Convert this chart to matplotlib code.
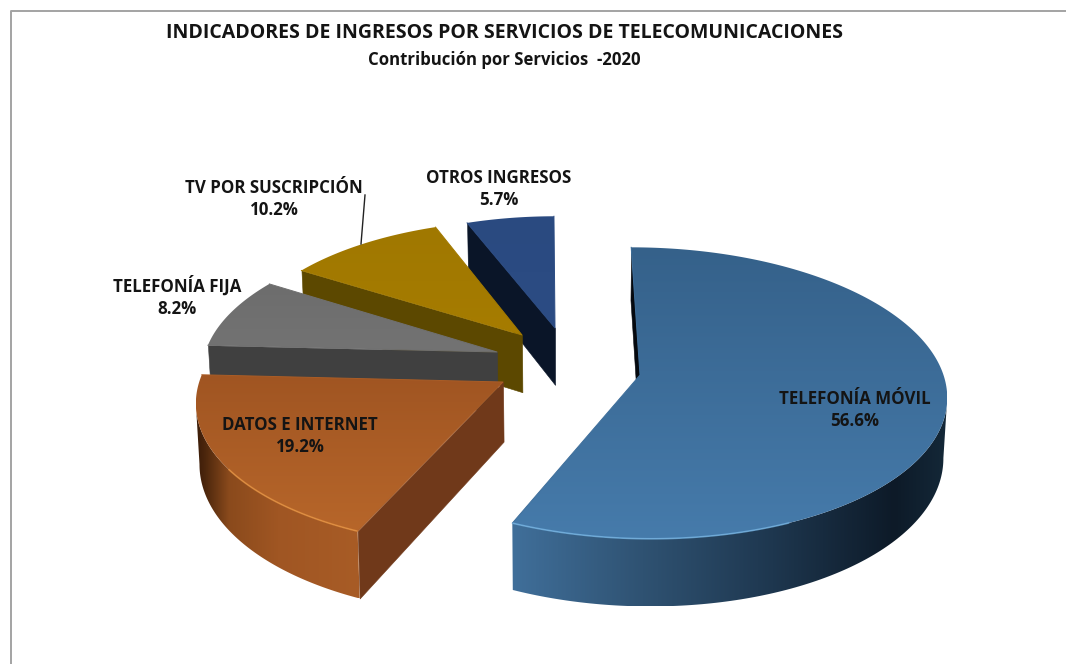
"""Exploded 3D pie: contribución por servicios de telecomunicaciones, 2020."""

import numpy as np
import matplotlib
matplotlib.use("Agg")
import matplotlib.pyplot as plt
from matplotlib.collections import PolyCollection
from matplotlib.colors import LinearSegmentedColormap
from matplotlib.patches import Polygon

plt.rcParams["font.family"] = ["Open Sans", "DejaVu Sans"]

# ---- Data --------------------------------------------------------------------
CATEGORIES = ["TELEFONÍA MÓVIL", "DATOS E INTERNET", "TELEFONÍA FIJA",
              "TV POR SUSCRIPCIÓN", "OTROS INGRESOS"]
SHARES = [56.6, 19.2, 8.2, 10.2, 5.7]

TITLE = "INDICADORES DE INGRESOS POR SERVICIOS DE TELECOMUNICACIONES"
SUBTITLE = "Contribución por Servicios  -2020"

# ---- Look of each slice -------------------------------------------------------
APEX_PX = [(640, 375), (503, 382), (497, 352), (522, 335), (555, 328)]
RADIUS = [1.01, 1.005, 0.99, 0.965, 0.95]
TOP_COLORS = [("#35618a", "#467bab"), ("#a05522", "#b7662a"), ("#6d6d6d", "#737373"),
              ("#a07800", "#a67c00"), ("#2a4a80", "#2c4c84")]
EDGE_COLORS = ["#3f6f9b", "#ab5d26", "#707070", "#a37a00", "#2b4b82"]
FACE_COLORS = ["#05090f", "#70391a", "#404040", "#5c4800", "#0a1528"]
# wall colours from the left end of the wall to its right end
SIDE_STOPS = [
    [(0.0, "#406f9a"), (0.3, "#2f5272"), (0.6, "#1e374f"), (0.88, "#0d1a28"), (1.0, "#142838")],
    [(0.0, "#3a1c08"), (0.05, "#4a250c"), (0.2, "#8a4a1c"), (0.5, "#a05623"), (1.0, "#a85c26")],
    [(0.0, "#454545"), (1.0, "#3c3c3c")],
    [(0.0, "#5c4800"), (1.0, "#5c4800")],
    [(0.0, "#0a1528"), (1.0, "#0a1528")],
]
RIM_COLORS = ["#74b4e4", "#e6923f", None, None, None]
RIM_XRANGE = [(0, 790), (228, 1066), None, None, None]
LABEL_PX = [(855, 410), (300, 436), (177, 297), (274, 199), (499, 189)]

# projection of the unit disc to the picture
X0, Y0 = 560.0, 350.0
AX, BY = 294.0, 136.0
PERSP = 0.12
DEPTH = 58.0
N_ARC = 240


def project(u, v):
    s = 1.0 / (1.0 + PERSP * v)
    return X0 + AX * u * s, Y0 - BY * v * s, s


def unproject(px, py):
    f = Y0 - py
    v = f / (BY - PERSP * f)
    s = 1.0 / (1.0 + PERSP * v)
    return (px - X0) / (AX * s), v


def lower(x, y, s):
    """Same point on the bottom face of the slab."""
    return X0 + (x - X0) * 0.99, y + DEPTH * s


def gradient_fill(ax, poly, stops, horizontal=False):
    cmap = LinearSegmentedColormap.from_list("fill", stops)
    ymin, ymax = poly[:, 1].min(), poly[:, 1].max()
    xmin, xmax = poly[:, 0].min(), poly[:, 0].max()
    ramp = np.linspace(0, 1, 512)
    ramp = ramp.reshape(1, -1) if horizontal else ramp.reshape(-1, 1)
    im = ax.imshow(ramp, cmap=cmap, aspect="auto", vmin=0, vmax=1,
                   extent=(xmin, xmax, ymax, ymin), origin="upper", zorder=2)
    patch = Polygon(poly, closed=True, transform=ax.transData, fc="none", ec="none")
    ax.add_patch(patch)
    im.set_clip_path(patch)
    return im


def draw_slice(ax, idx, theta0, theta1):
    ua, va = unproject(*APEX_PX[idx])
    th = np.linspace(theta0, theta1, N_ARC)
    u = ua + RADIUS[idx] * np.sin(th)
    v = va + RADIUS[idx] * np.cos(th)
    xa, ya, sa = project(ua, va)
    x, y, s = project(u, v)

    # radial faces (only those turned towards the viewer)
    quads = []
    if x[0] < xa:
        quads.append([(xa, ya), (x[0], y[0]), lower(x[0], y[0], s[0]), lower(xa, ya, sa)])
    if xa < x[-1]:
        quads.append([(x[-1], y[-1]), (xa, ya), lower(xa, ya, sa), lower(x[-1], y[-1], s[-1])])
    if quads:
        ax.add_collection(PolyCollection(quads, facecolors=FACE_COLORS[idx],
                                         edgecolors=FACE_COLORS[idx], linewidths=0.4, zorder=2))

    # outer wall, shaded along the picture's x
    vis = np.where(x[1:] < x[:-1])[0]
    if len(vis):
        vis = np.r_[vis, vis[-1] + 1]
        bx, by = lower(x[vis], y[vis], s[vis])
        wall = np.column_stack([np.r_[x[vis], bx[::-1]], np.r_[y[vis], by[::-1]]])
        gradient_fill(ax, wall, SIDE_STOPS[idx], horizontal=True)

    poly = np.column_stack([np.r_[xa, x], np.r_[ya, y]])
    gradient_fill(ax, poly, list(TOP_COLORS[idx]))
    # cover the jagged cut of the image along the two straight edges
    ax.plot([x[0], xa, x[-1]], [y[0], ya, y[-1]], color=EDGE_COLORS[idx], lw=0.7, zorder=2)

    if RIM_COLORS[idx] and len(vis):
        lo, hi = RIM_XRANGE[idx]
        keep = (x[vis] > lo) & (x[vis] < hi)
        ax.plot(x[vis][keep], y[vis][keep], color=RIM_COLORS[idx], lw=1.2, alpha=0.75,
                zorder=2, solid_capstyle="butt")


fig = plt.figure(figsize=(10.66, 6.64), dpi=100, facecolor="white")
ax = fig.add_axes([0, 0, 1, 1])
ax.axis("off")

edges = np.r_[0, np.cumsum(SHARES)] / 100.0 * 2 * np.pi
# painter's order: far slices first
for idx in [4, 3, 2, 1, 0]:
    draw_slice(ax, idx, edges[idx], edges[idx + 1])

# frame of the original worksheet picture
ax.plot([1066, 10.5, 10.5], [11, 11, 664], color="#a3a3a3", lw=1.4, zorder=1)

# leader line of the TV label
ax.plot([365, 361], [195, 244], color="#222222", lw=1.0, zorder=3)

for name, share, (lx, ly) in zip(CATEGORIES, SHARES, LABEL_PX):
    ax.text(lx, ly, f"{name}\n{share:.1f}%", ha="center", va="center", ma="center",
            fontsize=12.2, fontweight="bold", color="#141414", linespacing=1.3, zorder=4)

ax.text(505, 33, TITLE, ha="center", va="center", fontsize=14.0, fontweight="bold", color="#141414")
ax.text(504, 60, SUBTITLE, ha="center", va="center", fontsize=12.1, fontweight="bold", color="#141414")

ax.set_xlim(0, 1066)
ax.set_ylim(664, 0)
fig.savefig("out.png", dpi=100)
